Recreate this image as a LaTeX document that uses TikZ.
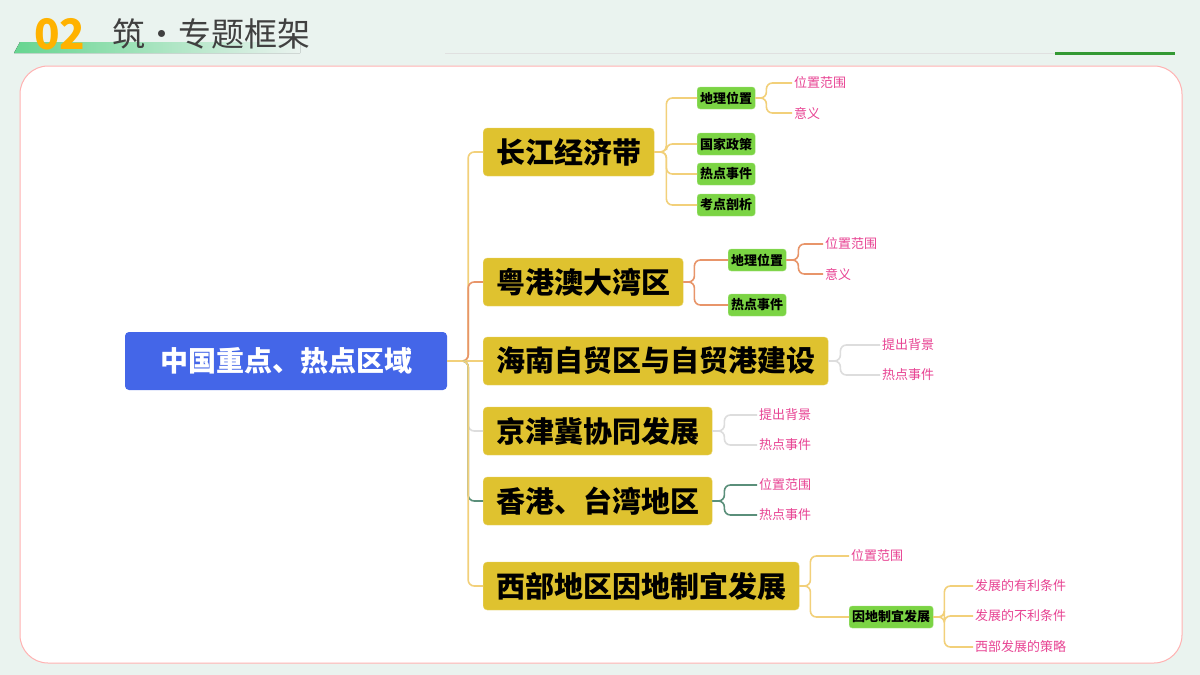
\documentclass[tikz,border=0pt]{standalone}
\usepackage{fontspec}
\setmainfont{Noto Sans CJK SC}
\usetikzlibrary{positioning}
\definecolor{bgcol}{HTML}{EAF3EF}
\definecolor{rootblue}{HTML}{4466E8}
\definecolor{mainyel}{HTML}{DFC22F}
\definecolor{subgreen}{HTML}{7BD444}
\definecolor{leafpink}{HTML}{E84393}
\definecolor{lnyel}{HTML}{F2D07A}
\definecolor{lnora}{HTML}{E8956A}
\definecolor{lngray}{HTML}{DDDDDD}
\definecolor{lnteal}{HTML}{5A8F7A}
\tikzstyle{rootnode} = [rectangle, rounded corners=4pt, fill=rootblue, text=white, font=\fontsize{28}{32}\selectfont\bfseries, minimum width=322pt, minimum height=58pt]
\tikzstyle{mainnode} = [rectangle, rounded corners=4pt, fill=mainyel, draw=mainyel!70!white, font=\fontsize{29}{32}\selectfont\bfseries, inner xsep=13pt, minimum height=48pt, anchor=west]
\tikzstyle{subnode} = [rectangle, rounded corners=3pt, fill=subgreen, draw=subgreen!70!white, font=\fontsize{13}{15}\selectfont\bfseries, inner xsep=3pt, minimum height=22pt, anchor=west]
\tikzstyle{leaf} = [text=leafpink, font=\fontsize{13}{15}\selectfont, inner sep=2pt, anchor=west]
\tikzstyle{link} = [line width=1.6pt, rounded corners=6pt]

\begin{document}
\begin{tikzpicture}[x=1pt, y=-1pt]
\useasboundingbox (0,0) rectangle (1200,675);
% background and card
\fill[bgcol] (0,0) rectangle (1200,675);
\fill[left color=green!45!teal!60, right color=bgcol] (20,42) -- (300,42) -- (300,53) -- (14,53) -- cycle;
\node (num) [anchor=west, text=orange!60!yellow, font=\fontsize{42}{44}\selectfont\bfseries, inner sep=0pt] at (34,34) {02};
\node (title) [anchor=west, text=black!75, font=\fontsize{33}{36}\selectfont, inner sep=0pt] at (112,34) {筑·专题框架};
\draw[black!12, line width=1pt] (445,53) -- (1175,53);
\draw[green!50!black!80, line width=3pt] (1055,53) -- (1175,53);
\draw[fill=white, draw=red!30, line width=1pt, rounded corners=28pt] (20,66) rectangle (1182,663);

% root and main branches
\node (root) [rootnode] at (286,361) {中国重点、热点区域};
\node (yangtze) [mainnode] at (483,152) {长江经济带};
\node (gba) [mainnode] at (483,282) {粤港澳大湾区};
\node (hainan) [mainnode] at (483,361) {海南自贸区与自贸港建设};
\node (jjj) [mainnode] at (483,431) {京津冀协同发展};
\node (hktw) [mainnode] at (483,501) {香港、台湾地区};
\node (west) [mainnode] at (483,586) {西部地区因地制宜发展};

\draw[link, lnyel] (root.east) -- ++(21,0) |- (yangtze.west);
\draw[link, lnora] (root.east) -- ++(21,0) |- (gba.west);
\draw[link, lnyel] (root.east) -- (hainan.west);
\draw[link, lngray] (root.east) -- ++(21,0) |- (jjj.west);
\draw[link, lnteal] (root.east) -- ++(21,0) |- (hktw.west);
\draw[link, lnyel] (root.east) -- ++(21,0) |- (west.west);

% yangtze
\node (ydl) [subnode] at (697,98) {地理位置};
\node (ygj) [subnode] at (697,144) {国家政策};
\node (yrd) [subnode] at (697,174) {热点事件};
\node (ykd) [subnode] at (697,205) {考点剖析};
\node (ywz) [leaf] at (792,83) {位置范围};
\node (yyy) [leaf] at (792,113) {意义};
\foreach \c in {ydl,ygj,yrd,ykd}
  \draw[link, lnyel] (yangtze.east) -- ++(12,0) |- (\c.west);
\foreach \c in {ywz,yyy}
  \draw[link, lnyel] (ydl.east) -- ++(11,0) |- (\c.west);

% greater bay area
\node (gdl) [subnode] at (728,260) {地理位置};
\node (grd) [subnode] at (728,305) {热点事件};
\node (gwz) [leaf] at (823,244) {位置范围};
\node (gyy) [leaf] at (823,274) {意义};
\foreach \c in {gdl,grd}
  \draw[link, lnora] (gba.east) -- ++(11,0) |- (\c.west);
\foreach \c in {gwz,gyy}
  \draw[link, lnora] (gdl.east) -- ++(12,0) |- (\c.west);

% hainan
\node (htc) [leaf] at (880,345) {提出背景};
\node (hrd) [leaf] at (880,375) {热点事件};
\foreach \c in {htc,hrd}
  \draw[link, lngray] (hainan.east) -- ++(12,0) |- (\c.west);

% jing-jin-ji
\node (jtc) [leaf] at (757,415) {提出背景};
\node (jrd) [leaf] at (757,445) {热点事件};
\foreach \c in {jtc,jrd}
  \draw[link, lngray] (jjj.east) -- ++(12,0) |- (\c.west);

% hong kong, taiwan
\node (kwz) [leaf] at (757,485) {位置范围};
\node (krd) [leaf] at (757,515) {热点事件};
\foreach \c in {kwz,krd}
  \draw[link, lnteal] (hktw.east) -- ++(12,0) |- (\c.west);

% west
\node (wwz) [leaf] at (849,556) {位置范围};
\node (wyd) [subnode] at (849,617) {因地制宜发展};
\node (wyl) [leaf] at (973,586) {发展的有利条件};
\node (wbl) [leaf] at (973,616) {发展的不利条件};
\node (wcl) [leaf] at (973,647) {西部发展的策略};
\foreach \c in {wwz,wyd}
  \draw[link, lnyel] (west.east) -- ++(11,0) |- (\c.west);
\foreach \c in {wyl,wbl,wcl}
  \draw[link, lnyel] (wyd.east) -- ++(11,0) |- (\c.west);
\end{tikzpicture}
\end{document}
